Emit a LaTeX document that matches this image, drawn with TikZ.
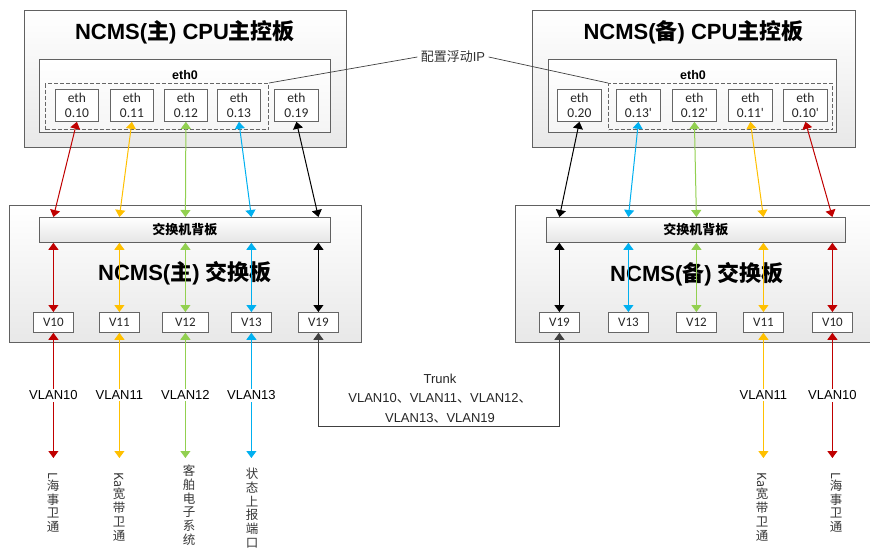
\documentclass[tikz,border=0pt]{standalone}
\usepackage{fontspec}
\setmainfont{Liberation Sans}
\newfontfamily\cjk{Noto Sans CJK SC}
\newfontfamily\calfont{Carlito}
\usetikzlibrary{arrows.meta}
\definecolor{cR}{HTML}{C00000}
\definecolor{cY}{HTML}{FFC000}
\definecolor{cG}{HTML}{92D050}
\definecolor{cB}{HTML}{00B0F0}
\definecolor{cK}{HTML}{000000}
\definecolor{cT}{HTML}{404040}
\tikzset{
  board/.style={draw=black!62, line width=0.8pt, top color=white, bottom color=black!9, anchor=north west, inner sep=0pt},
  innerbox/.style={draw=black!62, line width=0.8pt, top color=white, bottom color=black!4, anchor=north west, inner sep=0pt},
  dashbox/.style={draw=black!60, line width=1pt, dash pattern=on 4pt off 2pt, anchor=north west, inner sep=0pt},
  ethbox/.style={draw=black!60, line width=0.8pt, fill=white, anchor=north west, inner sep=0pt, align=center, text=black!85, font=\calfont\fontsize{13.5}{15.5}\selectfont},
  vbox/.style={draw=black!60, line width=0.8pt, fill=white, anchor=north west, inner sep=0pt, text=black!85, font=\calfont\fontsize{13}{15}\selectfont},
  bp/.style={draw=black!62, line width=0.8pt, top color=white, bottom color=black!10, anchor=north west, inner sep=0pt, font=\cjk\bfseries\fontsize{13}{15}\selectfont},
  bigtitle/.style={font=\bfseries\fontsize{22}{26}\selectfont},
  ethzero/.style={font=\bfseries\fontsize{12.5}{15}\selectfont},
  link/.style={line width=1pt, {Triangle[width=10pt,length=7pt]}-{Triangle[width=10pt,length=7pt]}},
  vlab/.style={midway, fill=white, inner sep=1.5pt, text=black, font=\fontsize{13}{15}\selectfont},
  vert/.style={anchor=north, inner sep=0pt, align=center, text=black!78, font=\cjk\fontsize{12.5}{13.7}\selectfont},
  thinline/.style={line width=0.7pt, draw=black!75}
}
\begin{document}
\begin{tikzpicture}[x=1pt,y=-1pt]
\useasboundingbox[fill=white] (0,0) rectangle (870,549);

% ---------- left CPU board ----------
\node[board, minimum width=322pt, minimum height=137pt] (cpuL) at (24,10) {};
\node[bigtitle] (tL) at (185,32) {NCMS({\cjk 主}) CPU{\cjk 主控板}};
\node[innerbox, minimum width=291pt, minimum height=73pt] (inL) at (39,59) {};
\node[ethzero] (ezL) at (185,75) {eth0};
\node[dashbox, minimum width=223pt, minimum height=46pt] (dL) at (45,83) {};
\node[ethbox, minimum width=43pt, minimum height=32pt] (e10) at (55,89) {eth\\0.10};
\node[ethbox, minimum width=43pt, minimum height=32pt] (e11) at (110,89) {eth\\0.11};
\node[ethbox, minimum width=43pt, minimum height=32pt] (e12) at (164,89) {eth\\0.12};
\node[ethbox, minimum width=43pt, minimum height=32pt] (e13) at (217,89) {eth\\0.13};
\node[ethbox, minimum width=44pt, minimum height=32pt] (e19) at (274,89) {eth\\0.19};

% ---------- right CPU board ----------
\node[board, minimum width=323pt, minimum height=137pt] (cpuR) at (532,10) {};
\node[bigtitle] (tR) at (693.5,32) {NCMS({\cjk 备}) CPU{\cjk 主控板}};
\node[innerbox, minimum width=288pt, minimum height=73pt] (inR) at (548,59) {};
\node[ethzero] (ezR) at (693,75) {eth0};
\node[dashbox, minimum width=224pt, minimum height=46pt] (dR) at (608,83) {};
\node[ethbox, minimum width=44pt, minimum height=32pt] (f20) at (557,89) {eth\\0.20};
\node[ethbox, minimum width=44pt, minimum height=32pt] (f13) at (616,89) {eth\\0.13'};
\node[ethbox, minimum width=44pt, minimum height=32pt] (f12) at (672,89) {eth\\0.12'};
\node[ethbox, minimum width=44pt, minimum height=32pt] (f11) at (728,89) {eth\\0.11'};
\node[ethbox, minimum width=44pt, minimum height=32pt] (f10) at (783,89) {eth\\0.10'};

% ---------- floating IP ----------
\node[text=black!80, font=\fontsize{13}{15}\selectfont] (cfg) at (453,57) {{\cjk 配置浮动}IP};
\draw[thinline] (cfg.west) -- (dL.north east);
\draw[thinline] (cfg.east) -- (dR.north west);

% ---------- left switch ----------
\node[board, minimum width=352pt, minimum height=137pt] (swL) at (9,205) {};
\node[bp, minimum width=291pt, minimum height=25pt] (bpL) at (39,217) {交换机背板};
\node[bigtitle] (sL) at (185,273) {NCMS({\cjk 主}) {\cjk 交换板}};
\node[vbox, minimum width=40pt, minimum height=20pt] (vL10) at (33,312) {V10};
\node[vbox, minimum width=40pt, minimum height=20pt] (vL11) at (99,312) {V11};
\node[vbox, minimum width=46pt, minimum height=20pt] (vL12) at (162,312) {V12};
\node[vbox, minimum width=40pt, minimum height=20pt] (vL13) at (231,312) {V13};
\node[vbox, minimum width=40pt, minimum height=20pt] (vL19) at (298,312) {V19};

% ---------- right switch ----------
\node[board, minimum width=356pt, minimum height=137pt] (swR) at (515,205) {};
\node[bp, minimum width=299pt, minimum height=25pt] (bpR) at (546,217) {交换机背板};
\node[bigtitle] (sR) at (697,274) {NCMS({\cjk 备}) {\cjk 交换板}};
\node[vbox, minimum width=40pt, minimum height=20pt] (vR19) at (539,312) {V19};
\node[vbox, minimum width=40pt, minimum height=20pt] (vR13) at (608,312) {V13};
\node[vbox, minimum width=40pt, minimum height=20pt] (vR12) at (676,312) {V12};
\node[vbox, minimum width=40pt, minimum height=20pt] (vR11) at (743,312) {V11};
\node[vbox, minimum width=40pt, minimum height=20pt] (vR10) at (812,312) {V10};

% ---------- CPU to backplane ----------
\draw[link, cR] (e10.south) -- (bpL.north -| vL10.center);
\draw[link, cY] (e11.south) -- (bpL.north -| vL11.center);
\draw[link, cG] (e12.south) -- (bpL.north -| vL12.center);
\draw[link, cB] (e13.south) -- (bpL.north -| vL13.center);
\draw[link, cK] (e19.south) -- (bpL.north -| vL19.center);

\draw[link, cK] (f20.south) -- (bpR.north -| vR19.center);
\draw[link, cB] (f13.south) -- (bpR.north -| vR13.center);
\draw[link, cG] (f12.south) -- (bpR.north -| vR12.center);
\draw[link, cY] (f11.south) -- (bpR.north -| vR11.center);
\draw[link, cR] (f10.south) -- (bpR.north -| vR10.center);

% ---------- backplane to V ports ----------
\draw[link, cR] (bpL.south -| vL10.center) -- (vL10.north);
\draw[link, cY] (bpL.south -| vL11.center) -- (vL11.north);
\draw[link, cG] (bpL.south -| vL12.center) -- (vL12.north);
\draw[link, cB] (bpL.south -| vL13.center) -- (vL13.north);
\draw[link, cK] (bpL.south -| vL19.center) -- (vL19.north);

\draw[link, cK] (bpR.south -| vR19.center) -- (vR19.north);
\draw[link, cB] (bpR.south -| vR13.center) -- (vR13.north);
\draw[link, cG] (bpR.south -| vR12.center) -- (vR12.north);
\draw[link, cY] (bpR.south -| vR11.center) -- (vR11.north);
\draw[link, cR] (bpR.south -| vR10.center) -- (vR10.north);

% ---------- external links ----------
\coordinate (yb) at (0,458);
\draw[link, cR] (vL10.south) -- (vL10.south |- yb) node[vlab] {VLAN10};
\draw[link, cY] (vL11.south) -- (vL11.south |- yb) node[vlab] {VLAN11};
\draw[link, cG] (vL12.south) -- (vL12.south |- yb) node[vlab] {VLAN12};
\draw[link, cB] (vL13.south) -- (vL13.south |- yb) node[vlab] {VLAN13};
\draw[link, cY] (vR11.south) -- (vR11.south |- yb) node[vlab] {VLAN11};
\draw[link, cR] (vR10.south) -- (vR10.south |- yb) node[vlab] {VLAN10};

% ---------- trunk ----------
\draw[link, cT] (vL19.south) -- ++(0,94) -| (vR19.south);
\node[align=center, text=black!85, font=\fontsize{13}{19.5}\selectfont] (trk) at (440,398.5)
  {Trunk\\VLAN10{\cjk 、}VLAN11{\cjk 、}VLAN12{\cjk 、}\\VLAN13{\cjk 、}VLAN19};

% ---------- end labels ----------
\node[vert] (l10) at (53,472) {\rotatebox{-90}{L}\\海\\事\\卫\\通};
\node[vert] (l11) at (119,472) {\rotatebox{-90}{Ka}\\宽\\带\\卫\\通};
\node[vert] (l12) at (189,465) {客\\舶\\电\\子\\系\\统};
\node[vert] (l13) at (252,468) {状\\态\\上\\报\\端\\口};
\node[vert] (r11) at (762,472) {\rotatebox{-90}{Ka}\\宽\\带\\卫\\通};
\node[vert] (r10) at (836,472) {\rotatebox{-90}{L}\\海\\事\\卫\\通};
\end{tikzpicture}
\end{document}
